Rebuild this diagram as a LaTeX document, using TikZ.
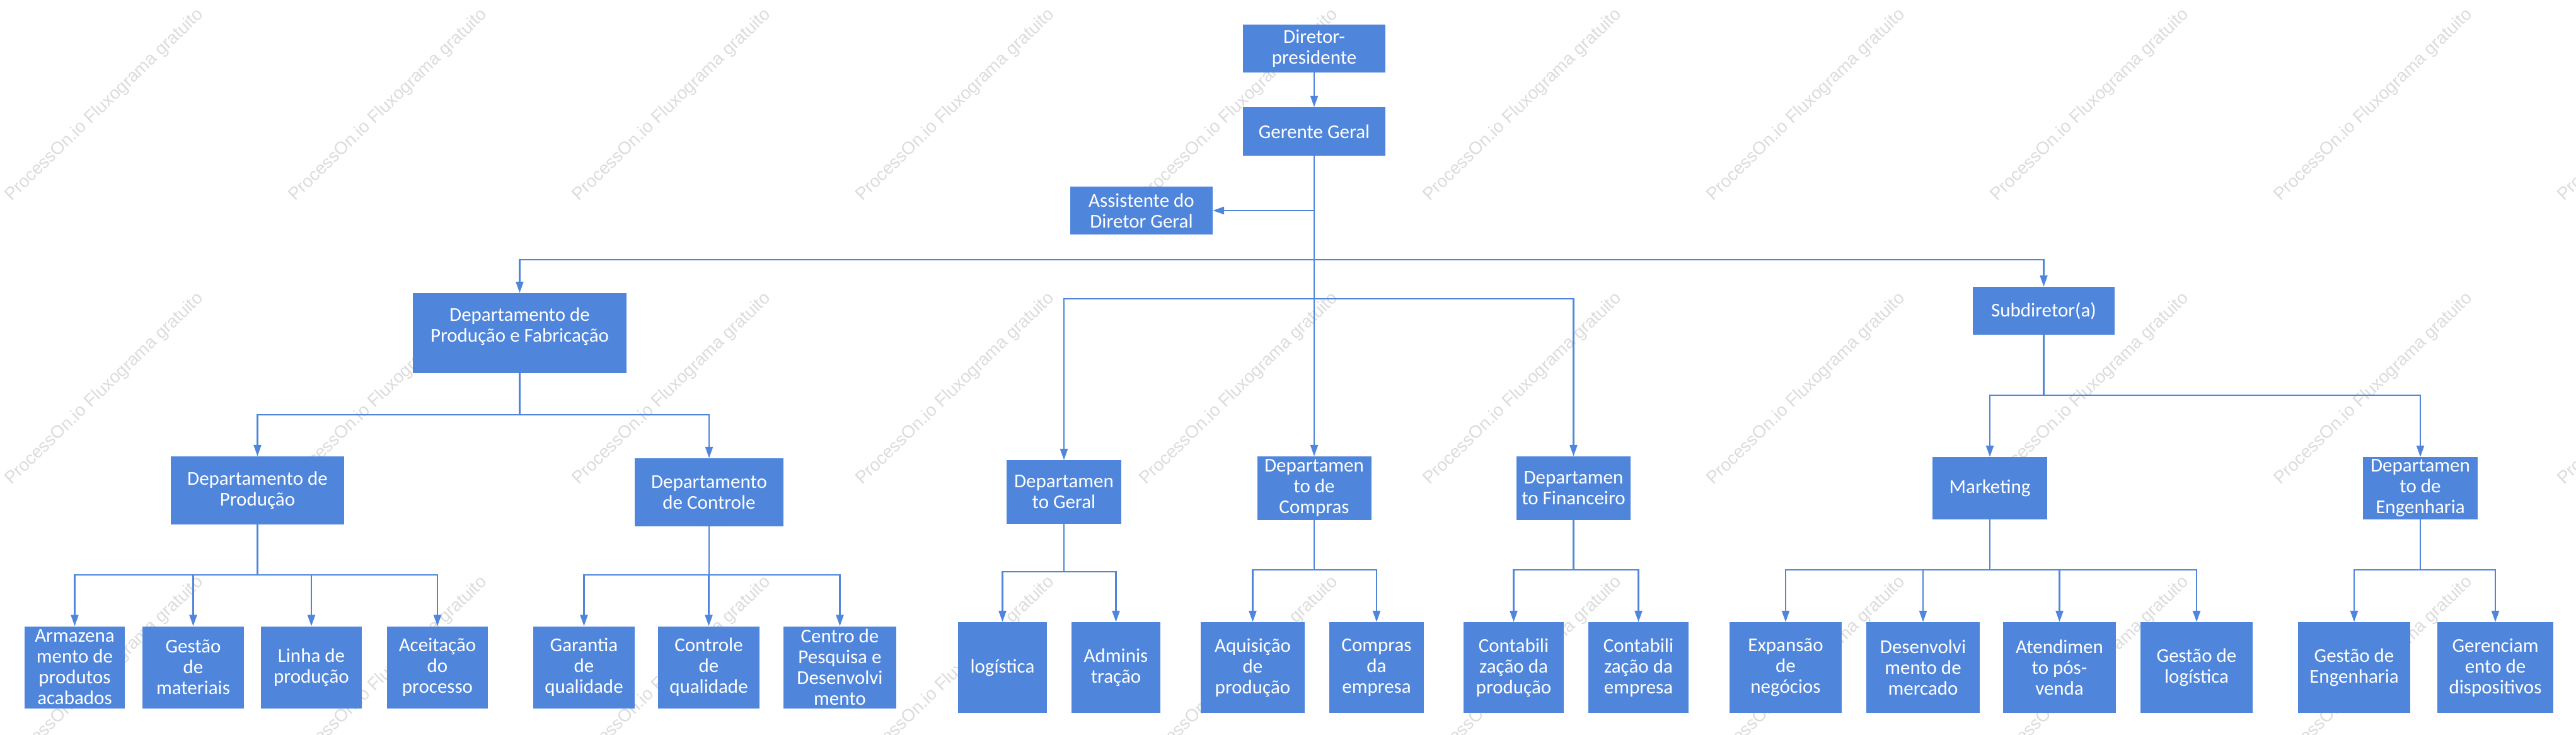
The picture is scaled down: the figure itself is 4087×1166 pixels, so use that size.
\documentclass[tikz,border=0pt]{standalone}
\usepackage{fontspec}
\setmainfont{Carlito}
\newfontfamily\wmfont{Liberation Sans}
\usetikzlibrary{arrows.meta}
\definecolor{boxblue}{RGB}{79,134,220}
\definecolor{wmgray}{RGB}{220,220,220}
\begin{document}
\begin{tikzpicture}[x=1pt,y=-1pt,
  box/.style={fill=boxblue, draw=none, text=white, align=center, inner sep=0pt,
    font=\fontsize{31}{33}\selectfont},
  txt/.style={text=white, align=center, inner sep=0pt, font=\fontsize{31}{33}\selectfont},
  conn/.style={draw=boxblue, line width=2.5pt},
  arr/.style={conn, -{Triangle[length=18pt,width=12pt]}},
  wm/.style={text=wmgray, font=\wmfont\fontsize{28}{30}\selectfont, rotate=44,
    anchor=base west, inner sep=0pt}]
\useasboundingbox (0,0) rectangle (4087,1166);
\fill[white] (0,0) rectangle (4087,1166);
% watermarks
\begin{scope}
\clip (0,0) rectangle (4087,1166);
\foreach \i in {0,...,9}{
  \foreach \j in {0,1,2}{
    \node[wm] (wm-\i-\j) at ({18+450*\i},{320+450*\j}) {ProcessOn.io Fluxograma gratuito};
  }
}
\end{scope}
% top levels
\node[box, minimum width=226pt, minimum height=76pt] (dp) at (2085,77) {Diretor-\\presidente};
\node[box, minimum width=226pt, minimum height=77pt] (gg) at (2085,208.5) {Gerente Geral};
\node[box, minimum width=226pt, minimum height=76pt] (asst) at (1811,334) {Assistente do\\Diretor Geral};
\node[box, minimum width=339pt, minimum height=127pt] (dpf) at (824.5,528.5) {};
\node[txt] (dpft) at ([yshift=11pt]dpf.center) {Departamento de\\Produção e Fabricação};
\node[box, minimum width=225pt, minimum height=76pt] (sub) at (3242.5,493) {Subdiretor(a)};
\node[box, minimum width=182pt, minimum height=101pt] (dg) at (1688,780.5) {Departamen\\to Geral};
\node[box, minimum width=181pt, minimum height=101pt] (dc) at (2085,774.5) {Departamen\\to de\\Compras};
\node[box, minimum width=181pt, minimum height=101pt] (df) at (2496.5,774.5) {Departamen\\to Financeiro};
% level 2
\node[box, minimum width=275pt, minimum height=108pt] (dprod) at (408.5,778) {Departamento de\\Produção};
\node[box, minimum width=236pt, minimum height=108pt] (dctrl) at (1125,781) {Departamento\\de Controle};
\node[box, minimum width=182pt, minimum height=99pt] (mkt) at (3157,774.5) {Marketing};
\node[box, minimum width=182pt, minimum height=99pt] (deng) at (3840,774.5) {Departamen\\to de\\Engenharia};
% leaves left
\begin{scope}[every node/.style={box, minimum height=130pt}]
\node[minimum width=159pt] (l1) at (118.5,1058.5) {Armazena\\mento de\\produtos\\acabados};
\node[minimum width=161pt] (l2) at (306.5,1058.5) {Gestão\\de\\materiais};
\node[minimum width=160pt] (l3) at (494,1058.5) {Linha de\\produção};
\node[minimum width=160pt] (l4) at (694,1058.5) {Aceitação\\do\\processo};
\node[minimum width=161pt] (l5) at (926.5,1058.5) {Garantia\\de\\qualidade};
\node[minimum width=161pt] (l6) at (1124.5,1058.5) {Controle\\de\\qualidade};
\node[minimum width=179pt] (l7) at (1332.5,1058.5) {Centro de\\Pesquisa e\\Desenvolvi\\mento};
\end{scope}
% leaves middle and right
\begin{scope}[every node/.style={box, minimum height=144pt}]
\node[minimum width=141pt] (m1) at (1590.5,1059) {logística};
\node[minimum width=141pt] (m2) at (1770.5,1059) {Adminis\\tração};
\node[minimum width=165pt] (m3) at (1987.5,1059) {Aquisição\\de\\produção};
\node[minimum width=150pt] (m4) at (2184,1059) {Compras\\da\\empresa};
\node[minimum width=159pt] (m5) at (2401.5,1059) {Contabili\\zação da\\produção};
\node[minimum width=159pt] (m6) at (2599.5,1059) {Contabili\\zação da\\empresa};
\node[minimum width=178pt] (r1) at (2833,1059) {Expansão\\de\\negócios};
\node[minimum width=180pt] (r2) at (3051,1059) {Desenvolvi\\mento de\\mercado};
\node[minimum width=179pt] (r3) at (3267.5,1059) {Atendimen\\to pós-\\venda};
\node[minimum width=178pt] (r4) at (3485,1059) {Gestão de\\logística};
\node[minimum width=178pt] (r5) at (3735,1059) {Gestão de\\Engenharia};
\node[minimum width=184pt] (r6) at (3959,1059) {Gerenciam\\ento de\\dispositivos};
\end{scope}
% connectors
\draw[arr] (dp) -- (gg);
\draw[arr] (gg.south) -- (dc.north);
\draw[arr] (gg.south |- asst.east) -- (asst.east);
\coordinate (busA) at (2085,412);
\coordinate (busB) at (2085,474);
\draw[arr] (busA) -| (dpf.north);
\draw[arr] (busA) -| (sub.north);
\draw[arr] (busB) -| (dg.north);
\draw[arr] (busB) -| (df.north);
\foreach \c in {dprod,dctrl} \draw[arr] (dpf.south) -- ++(0,66) -| (\c.north);
\foreach \c in {mkt,deng} \draw[arr] (sub.south) -- ++(0,96) -| (\c.north);
\foreach \c in {l1,l2,l3,l4} \draw[arr] (dprod.south) -- ++(0,80) -| (\c.north);
\foreach \c in {l5,l6,l7} \draw[arr] (dctrl.south) -- ++(0,77) -| (\c.north);
\foreach \c in {m1,m2} \draw[arr] (dg.south) -- ++(0,76) -| (\c.north);
\foreach \c in {m3,m4} \draw[arr] (dc.south) -- ++(0,79) -| (\c.north);
\foreach \c in {m5,m6} \draw[arr] (df.south) -- ++(0,79) -| (\c.north);
\foreach \c in {r1,r2,r3,r4} \draw[arr] (mkt.south) -- ++(0,80) -| (\c.north);
\foreach \c in {r5,r6} \draw[arr] (deng.south) -- ++(0,80) -| (\c.north);
\end{tikzpicture}
\end{document}
